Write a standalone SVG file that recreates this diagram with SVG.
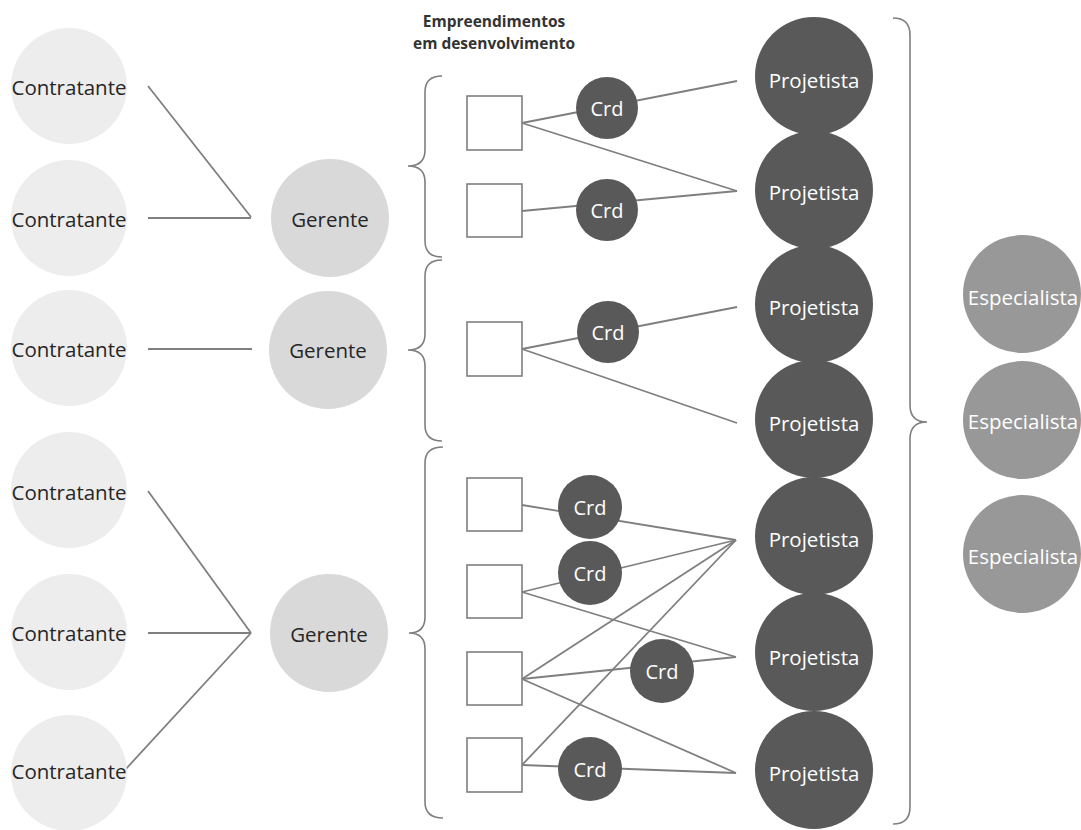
<svg xmlns="http://www.w3.org/2000/svg" width="1081" height="830" viewBox="0 0 1081 830">
  <style>
    text { font-family: "Open Sans", "Liberation Sans", sans-serif; font-size: 20.5px; text-anchor: middle; }
    .contratante circle { fill: #ededed; }
    .gerente circle { fill: #d9d9d9; }
    .dark circle { fill: #595959; }
    .especialista circle { fill: #989898; }
    .dark-txt { fill: #262626; }
    .light-txt { fill: #ffffff; }
    .crd text { font-size: 20px; }
    .box { fill: #ffffff; stroke: #7f7f7f; stroke-width: 1.6; }
    .link { stroke: #7f7f7f; stroke-width: 1.8; fill: none; }
    .brace { stroke: #7f7f7f; stroke-width: 1.6; fill: none; }
    .title { font-size: 15.5px; font-weight: 700; fill: #333333; }
  </style>
  <rect width="1081" height="830" fill="#ffffff"/>

  <!-- heading over the column of projects -->
  <g id="heading">
    <text class="title" x="494" y="27">Empreendimentos</text>
    <text class="title" x="494" y="49">em desenvolvimento</text>
  </g>

  <!-- connectors (drawn first so the round nodes sit on top) -->
  <g id="connectors">
    <line class="link" x1="148" y1="86" x2="251" y2="217"/>
    <line class="link" x1="148" y1="218" x2="251" y2="218"/>
    <line class="link" x1="148" y1="349" x2="252" y2="349"/>
    <line class="link" x1="148" y1="491" x2="251" y2="633"/>
    <line class="link" x1="148" y1="633" x2="251" y2="633"/>
    <line class="link" x1="113" y1="783" x2="251" y2="633"/>

    <line class="link" x1="522" y1="123" x2="737" y2="81"/>
    <line class="link" x1="522" y1="123" x2="737" y2="191"/>
    <line class="link" x1="522" y1="211" x2="737" y2="191"/>
    <line class="link" x1="522" y1="349" x2="737" y2="307"/>
    <line class="link" x1="522" y1="349" x2="737" y2="423"/>

    <line class="link" x1="522" y1="505" x2="736" y2="540"/>
    <line class="link" x1="522" y1="592" x2="736" y2="540"/>
    <line class="link" x1="522" y1="592" x2="736" y2="657"/>
    <line class="link" x1="522" y1="679" x2="736" y2="540"/>
    <line class="link" x1="522" y1="679" x2="736" y2="657"/>
    <line class="link" x1="522" y1="679" x2="736" y2="773"/>
    <line class="link" x1="522" y1="765" x2="736" y2="540"/>
    <line class="link" x1="522" y1="765" x2="736" y2="773"/>
  </g>

  <!-- curly braces -->
  <g id="braces">
    <path class="brace" d="M442,76 Q425,76 425,92 L425,150 Q425,166 408,166 Q425,166 425,182 L425,241 Q425,257 442,257"/>
    <path class="brace" d="M442,260 Q425,260 425,276 L425,334 Q425,350 408,350 Q425,350 425,366 L425,425 Q425,441 442,441"/>
    <path class="brace" d="M443,447 Q425,447 425,463 L425,617 Q425,633 409,633 Q425,633 425,649 L425,802 Q425,818 443,818"/>
    <path class="brace" d="M893,18 Q910,18 910,35 L910,405 Q910,422 927,422 Q910,422 910,439 L910,807 Q910,824 893,824"/>
  </g>

  <!-- clients -->
  <g id="contratante-1" class="contratante"><circle cx="69" cy="86" r="58"/><text class="dark-txt" x="69" y="95">Contratante</text></g>
  <g id="contratante-2" class="contratante"><circle cx="69" cy="218" r="58"/><text class="dark-txt" x="69" y="227">Contratante</text></g>
  <g id="contratante-3" class="contratante"><circle cx="69" cy="348" r="58"/><text class="dark-txt" x="69" y="357">Contratante</text></g>
  <g id="contratante-4" class="contratante"><circle cx="69" cy="490" r="58"/><text class="dark-txt" x="69" y="500">Contratante</text></g>
  <g id="contratante-5" class="contratante"><circle cx="69" cy="632" r="58"/><text class="dark-txt" x="69" y="641">Contratante</text></g>
  <g id="contratante-6" class="contratante"><circle cx="69" cy="773" r="58"/><text class="dark-txt" x="69" y="779">Contratante</text></g>

  <!-- managers -->
  <g id="gerente-1" class="gerente"><circle cx="330" cy="218" r="59"/><text class="dark-txt" x="330" y="227">Gerente</text></g>
  <g id="gerente-2" class="gerente"><circle cx="328" cy="350" r="59"/><text class="dark-txt" x="328" y="358">Gerente</text></g>
  <g id="gerente-3" class="gerente"><circle cx="329" cy="633" r="59"/><text class="dark-txt" x="329" y="642">Gerente</text></g>

  <!-- projects -->
  <g id="empreendimento-1"><rect class="box" x="467" y="96" width="55" height="54"/></g>
  <g id="empreendimento-2"><rect class="box" x="467" y="184" width="55" height="53"/></g>
  <g id="empreendimento-3"><rect class="box" x="467" y="322" width="55" height="54"/></g>
  <g id="empreendimento-4"><rect class="box" x="467" y="478" width="55" height="53"/></g>
  <g id="empreendimento-5"><rect class="box" x="467" y="565" width="55" height="53"/></g>
  <g id="empreendimento-6"><rect class="box" x="467" y="652" width="55" height="53"/></g>
  <g id="empreendimento-7"><rect class="box" x="467" y="738" width="55" height="54"/></g>

  <!-- coordinators -->
  <g id="crd-1" class="dark crd"><circle cx="607" cy="108" r="31"/><text class="light-txt" x="607" y="116">Crd</text></g>
  <g id="crd-2" class="dark crd"><circle cx="607" cy="210" r="31"/><text class="light-txt" x="607" y="218">Crd</text></g>
  <g id="crd-3" class="dark crd"><circle cx="608" cy="332" r="31"/><text class="light-txt" x="608" y="340">Crd</text></g>
  <g id="crd-4" class="dark crd"><circle cx="590" cy="507" r="32"/><text class="light-txt" x="590" y="515">Crd</text></g>
  <g id="crd-5" class="dark crd"><circle cx="590" cy="573" r="32"/><text class="light-txt" x="590" y="581">Crd</text></g>
  <g id="crd-6" class="dark crd"><circle cx="662" cy="671" r="32"/><text class="light-txt" x="662" y="679">Crd</text></g>
  <g id="crd-7" class="dark crd"><circle cx="590" cy="769" r="32"/><text class="light-txt" x="590" y="777">Crd</text></g>

  <!-- designers -->
  <g id="projetista-1" class="dark"><circle cx="814" cy="76" r="59"/><text class="light-txt" x="814" y="88">Projetista</text></g>
  <g id="projetista-2" class="dark"><circle cx="814" cy="190" r="59"/><text class="light-txt" x="814" y="200">Projetista</text></g>
  <g id="projetista-3" class="dark"><circle cx="814" cy="304" r="59"/><text class="light-txt" x="814" y="315">Projetista</text></g>
  <g id="projetista-4" class="dark"><circle cx="814" cy="419" r="59"/><text class="light-txt" x="814" y="431">Projetista</text></g>
  <g id="projetista-5" class="dark"><circle cx="814" cy="536" r="59"/><text class="light-txt" x="814" y="547">Projetista</text></g>
  <g id="projetista-6" class="dark"><circle cx="814" cy="652" r="59"/><text class="light-txt" x="814" y="665">Projetista</text></g>
  <g id="projetista-7" class="dark"><circle cx="814" cy="770" r="59"/><text class="light-txt" x="814" y="781">Projetista</text></g>

  <!-- specialists -->
  <g id="especialista-1" class="especialista"><circle cx="1022" cy="294" r="59"/><text class="light-txt" x="1023" y="305">Especialista</text></g>
  <g id="especialista-2" class="especialista"><circle cx="1022" cy="420" r="59"/><text class="light-txt" x="1023" y="429">Especialista</text></g>
  <g id="especialista-3" class="especialista"><circle cx="1022" cy="554" r="59"/><text class="light-txt" x="1023" y="564">Especialista</text></g>
</svg>
